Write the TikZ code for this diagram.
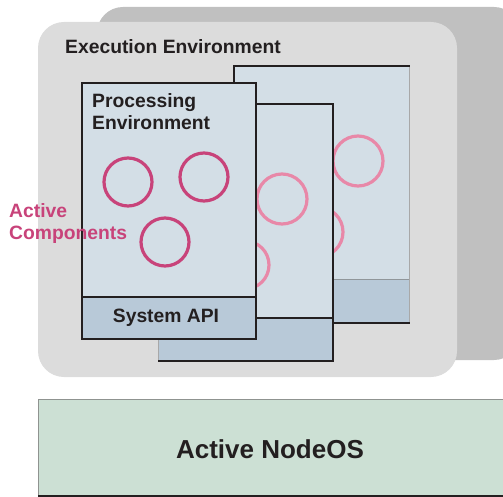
\documentclass[tikz,border=0pt]{standalone}
\usepackage{fontspec}
\setmainfont{Liberation Sans}
\definecolor{shadowgray}{HTML}{C0C0C0}
\definecolor{envgray}{HTML}{DCDCDC}
\definecolor{panelfill}{HTML}{D3DEE6}
\definecolor{apifill}{HTML}{B8C9D8}
\definecolor{deeppink}{HTML}{C8437A}
\definecolor{lightpink}{HTML}{E888A8}
\definecolor{osfill}{HTML}{CCE0D4}
\definecolor{textdark}{HTML}{231F20}
\definecolor{edgegray}{HTML}{A8A8A8}
\begin{document}
\begin{tikzpicture}[x=1pt,y=-1pt,
  blk/.style={line width=2.6pt, draw=textdark},
  thin/.style={line width=0.8pt, draw=edgegray},
  acomp/.style={line width=3.2pt, draw=deeppink},
  bcomp/.style={line width=3.2pt, draw=lightpink},
  lbl/.style={font=\bfseries\fontsize{19.3}{22}\selectfont, text=textdark, inner sep=0pt, anchor=base west}]
\useasboundingbox (0,0) rectangle (503,497);
% background shells
\fill[shadowgray, rounded corners=26pt] (97,7) rectangle (520,360);
\fill[envgray, rounded corners=26pt] (38,22) rectangle (457,377);
\node[lbl] (ee) at (65,54) {Execution Environment};
% back panel
\fill[panelfill] (234,66) rectangle (409,323);
\fill[apifill] (234,279) rectangle (409,323);
\draw[line width=0.6pt, draw=gray!70!apifill] (234,279) -- (409,279);
\draw[thin] (409,66) -- (409,323);
\draw[blk] (234,323) -- (234,66) -- (409.5,66);
\draw[blk] (333,323) -- (409.5,323);
\draw[bcomp] (358,161) circle (25);
\draw[bcomp] (318,232) circle (25);
% middle panel
\fill[panelfill] (158,104) rectangle (333,361);
\fill[apifill] (158,318) rectangle (333,361);
\draw[thin] (158,104) -- (158,361);
\draw[blk] (158,361) -- (333,361) -- (333,104) -- (256,104);
\draw[blk] (256,318) -- (333,318);
\draw[bcomp] (282,199) circle (25);
\draw[bcomp] (245,265) circle (24);
% front panel
\fill[panelfill] (82,83) rectangle (256,339);
\fill[apifill] (82,297) rectangle (256,339);
\draw[blk] (82,83) rectangle (256,339);
\draw[blk] (82,297) -- (256,297);
\node[lbl] (pe1) at (92,108) {Processing};
\node[lbl] (pe2) at (92,130) {Environment};
\node[lbl, anchor=base] (api) at (166,322) {System API};
\draw[acomp] (128,182) circle (24);
\draw[acomp] (204,177) circle (24);
\draw[acomp] (165,242) circle (24);
\node[lbl, text=deeppink] (ac1) at (9,217) {Active};
\node[lbl, text=deeppink] (ac2) at (9,239) {Components};
% NodeOS
\fill[osfill] (38,399) rectangle (520,496);
\draw[line width=0.8pt, draw=gray!80!osfill] (520,399) -- (38,399) -- (38,496);
\draw[blk] (38,496) -- (520,496);
\node[font=\bfseries\fontsize{26}{30}\selectfont, text=textdark, inner sep=0pt, anchor=base] (os) at (270,458) {Active NodeOS};
\end{tikzpicture}
\end{document}
